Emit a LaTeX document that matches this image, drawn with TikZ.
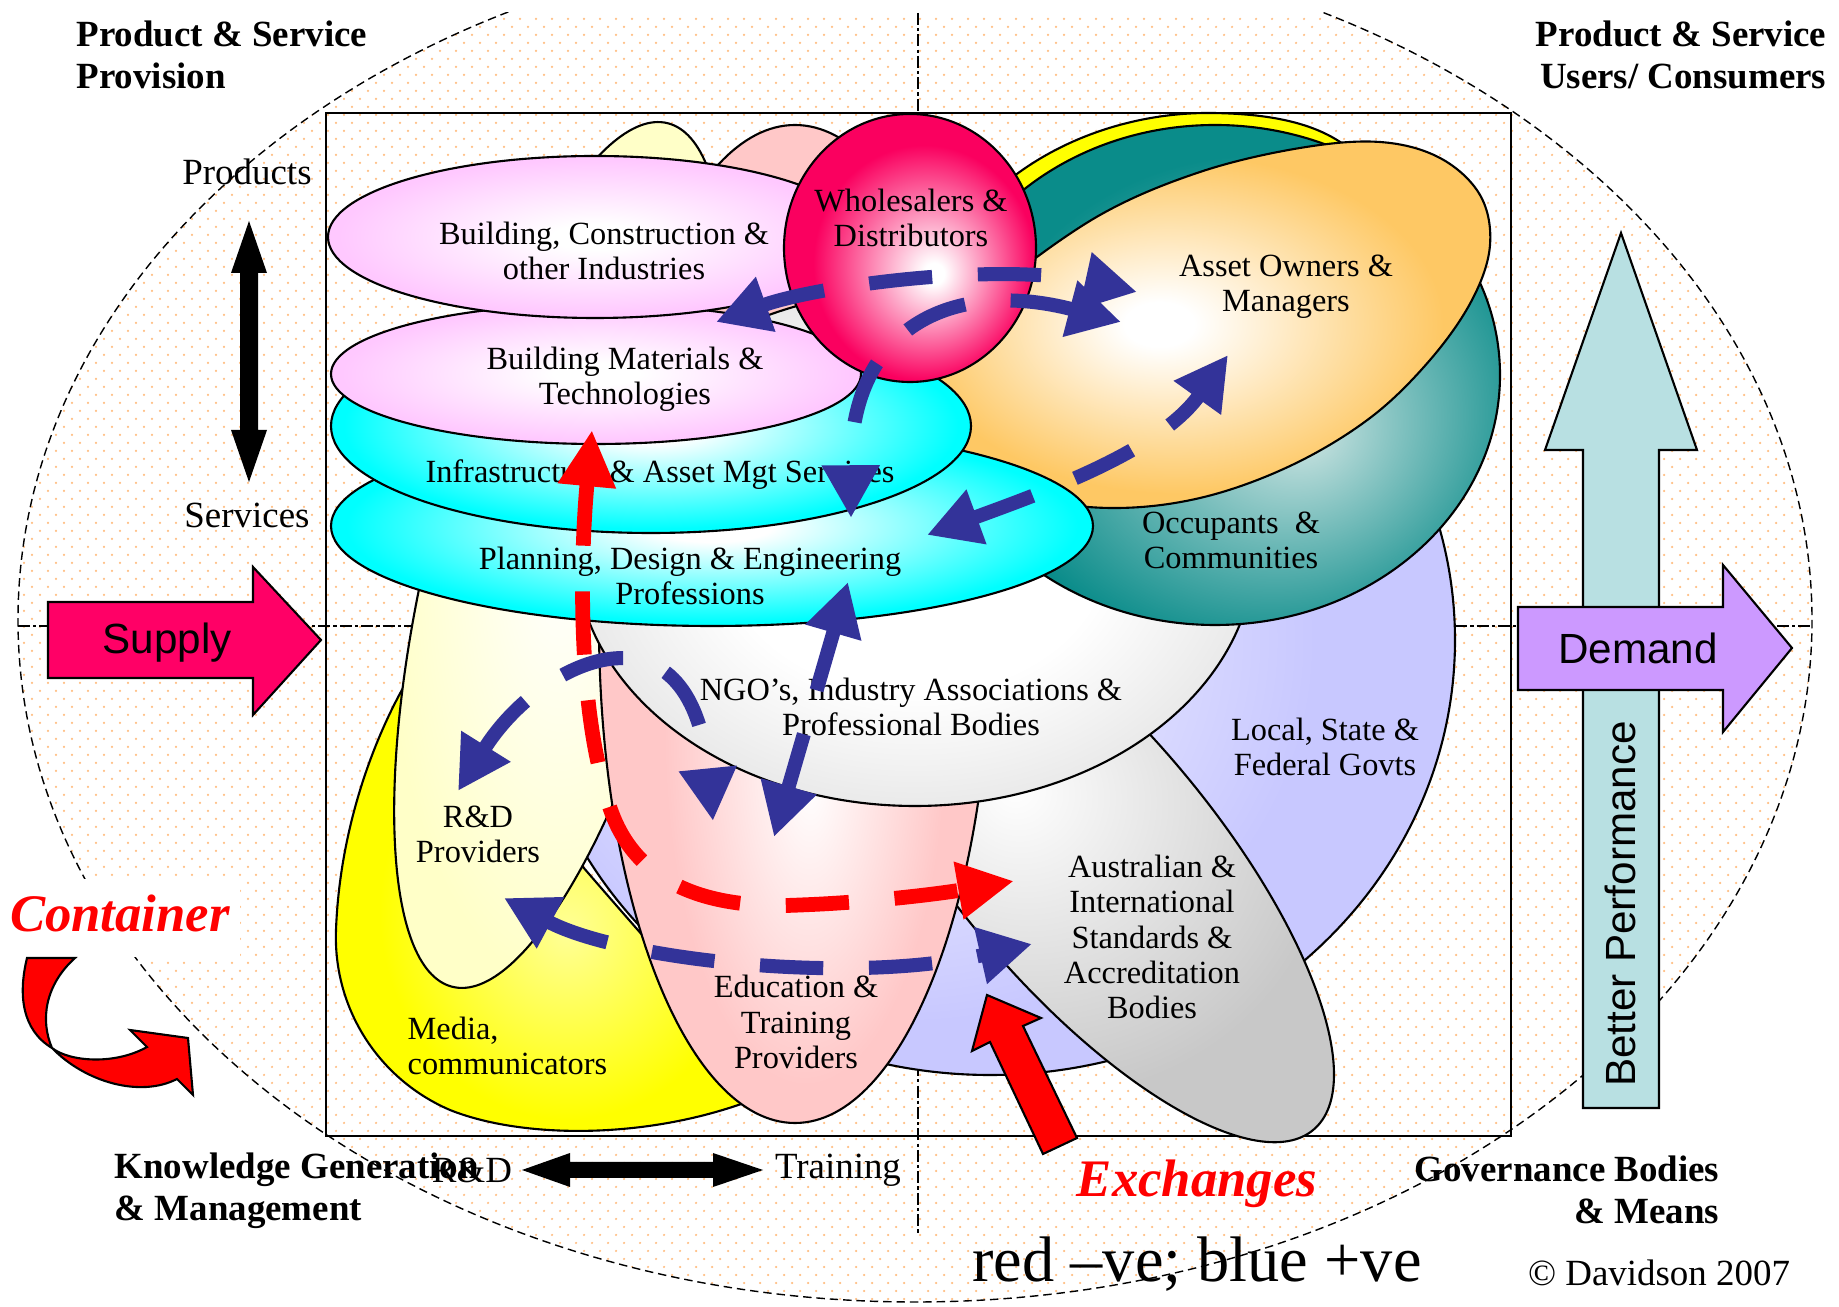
\documentclass[tikz,border=0pt]{standalone}
\usepackage{fontspec}
\setmainfont{Liberation Serif}
\setsansfont{Liberation Sans}
\usetikzlibrary{arrows.meta,patterns}

\definecolor{bluec}{RGB}{51,51,153}
\definecolor{redc}{RGB}{255,0,0}
\definecolor{supplyc}{RGB}{255,0,102}
\definecolor{demandc}{RGB}{204,153,255}
\definecolor{perfc}{RGB}{184,224,226}
\definecolor{cyanc}{RGB}{0,255,255}
\definecolor{pinkc}{RGB}{255,200,255}
\definecolor{wholec}{RGB}{250,0,95}
\definecolor{orangec}{RGB}{254,200,100}
\definecolor{tealc}{RGB}{10,140,138}
\definecolor{teallt}{RGB}{205,228,226}
\definecolor{yellc}{RGB}{255,255,0}
\definecolor{yelllt}{RGB}{255,255,150}
\definecolor{rdc}{RGB}{255,255,200}
\definecolor{educ}{RGB}{255,200,200}
\definecolor{lavc}{RGB}{200,200,255}
\definecolor{grayc}{RGB}{200,200,200}
\definecolor{ngoc}{RGB}{232,232,232}
\definecolor{dotc}{RGB}{255,190,130}

\pgfdeclarepatternformonly{orgdots}{\pgfpoint{-0.5pt}{-0.5pt}}{\pgfpoint{3pt}{3pt}}{\pgfpoint{4.55pt}{4.55pt}}%
{\pgfpathcircle{\pgfpointorigin}{0.35pt}\pgfpathcircle{\pgfpoint{2.275pt}{2.275pt}}{0.35pt}\pgfusepath{fill}}

\pgfdeclareradialshading{shcyan}{\pgfpoint{0bp}{0bp}}{color(0bp)=(white); color(4bp)=(white); color(24bp)=(cyanc); color(50bp)=(cyanc)}
\pgfdeclareradialshading{shpink}{\pgfpoint{0bp}{0bp}}{color(0bp)=(white); color(4bp)=(white); color(24bp)=(pinkc); color(50bp)=(pinkc)}
\pgfdeclareradialshading{shwhole}{\pgfpoint{5bp}{-5bp}}{color(0bp)=(white); color(2bp)=(white); color(22bp)=(wholec); color(50bp)=(wholec)}
\pgfdeclareradialshading{shorange}{\pgfpoint{-4bp}{0bp}}{color(0bp)=(white); color(3bp)=(white); color(23bp)=(orangec); color(50bp)=(orangec)}
\pgfdeclareradialshading{shteal}{\pgfpoint{8bp}{-6bp}}{color(0bp)=(teallt); color(25bp)=(tealc); color(50bp)=(tealc)}
\pgfdeclareradialshading{shmedia}{\pgfpoint{0bp}{-5bp}}{color(0bp)=(yelllt); color(20bp)=(yellc); color(50bp)=(yellc)}
\pgfdeclareradialshading{shrd}{\pgfpoint{0bp}{0bp}}{color(0bp)=(white); color(24bp)=(rdc); color(50bp)=(rdc)}
\pgfdeclareradialshading{shedu}{\pgfpoint{2bp}{-8bp}}{color(0bp)=(white); color(18bp)=(educ); color(50bp)=(educ)}
\pgfdeclareradialshading{shngo}{\pgfpoint{0bp}{0bp}}{color(0bp)=(white); color(14bp)=(white); color(26bp)=(ngoc); color(50bp)=(ngoc)}
\pgfdeclareradialshading{shgray}{\pgfpoint{-6bp}{6bp}}{color(0bp)=(white); color(25bp)=(grayc); color(50bp)=(grayc)}
\pgfdeclareradialshading{shlav}{\pgfpoint{-8bp}{0bp}}{color(0bp)=(white); color(22bp)=(lavc); color(50bp)=(lavc)}

\tikzset{
  shp/.style={draw=black, line width=0.6pt},
  lbl/.style={font=\fontsize{9.2}{10}\selectfont, align=center, inner sep=0pt},
  hdr/.style={font=\fontsize{10.5}{12}\selectfont\bfseries, inner sep=0pt},
  bigtxt/.style={font=\fontsize{10.5}{12}\selectfont, inner sep=0pt},
  sanstxt/.style={font=\sffamily\fontsize{12}{14}\selectfont, inner sep=0pt},
  bdash/.style={draw=bluec, line width=4pt, dash pattern=on 18pt off 13pt,
     {Triangle[length=15pt,width=15.5pt]}-{Triangle[length=15pt,width=15.5pt]}},
  rdash/.style={draw=redc, line width=4.2pt, dash pattern=on 18pt off 13pt,
     {Triangle[length=16pt,width=15.5pt]}-{Triangle[length=16pt,width=15.5pt]}},
  xline/.style={line width=0.45pt, dash pattern=on 3.4pt off 0.9pt on 0.9pt off 0.9pt},
  blockarr/.style={draw=black, line width=0.6pt},
}

\begin{document}
\begin{tikzpicture}[x=0.01cm, y=-0.01cm]
\useasboundingbox (0,0) rectangle (1839,1307);

% ---- container ellipse with dotted fill
\begin{scope}
  \clip (0,13) rectangle (1839,1307);
  \fill[white] (915,620) ellipse [x radius=897, y radius=682];
  \fill[pattern=orgdots, pattern color=dotc] (915,620) ellipse [x radius=897, y radius=682];
  \draw[line width=0.4pt, dash pattern=on 2.4pt off 1.4pt] (915,620) ellipse [x radius=897, y radius=682];
\end{scope}
\fill[white] (0,879) rectangle (240,957);

% ---- cross lines and frame
\draw[xline] (918,13) -- (918,1235);
\draw[xline] (18,626) -- (1812,626);
\draw[line width=0.7pt] (326,113) rectangle (1511,1136);

% ---- shapes, back to front
\shadedraw[shading=shlav, shp] (990,640) ellipse [x radius=465, y radius=435];
\shadedraw[shading=shgray, shp, shift={(1082,854)}, rotate=-50] (0,0) ellipse [x radius=360, y radius=130];
\shadedraw[shading=shmedia, shp] (470,620) -- (420,660) .. controls (380,720) and (340,820) .. (336,930)
   .. controls (333,1010) and (380,1080) .. (450,1110) .. controls (520,1138) and (640,1140) .. (744,1103)
   -- (800,1080) -- (690,990) .. controls (660,955) and (620,910) .. (583,867) -- (540,780) -- cycle;
\shadedraw[shading=shrd, shp, shift={(560,555)}, rotate=-14] (0,0) ellipse [x radius=130, y radius=445];
\shadedraw[shading=shedu, shp] (795,624) ellipse [x radius=196, y radius=499];
\shadedraw[shading=shngo, shp] (915,548) ellipse [x radius=340, y radius=258];
\filldraw[fill=yellc, shp] (960,230) .. controls (1020,150) and (1120,112) .. (1212,113)
   .. controls (1290,114) and (1340,130) .. (1370,170) -- (1215,375) -- cycle;
\shadedraw[shading=shteal, shp] (1215,375) ellipse [x radius=285, y radius=250];
\shadedraw[shading=shorange, shp] plot[smooth cycle, tension=0.6] coordinates {
   (915,420) (945,335) (1000,285) (1100,215) (1200,172) (1300,148) (1380,142) (1440,158)
   (1480,195) (1490,245) (1472,300) (1430,360) (1370,418) (1290,466) (1200,498) (1110,508)
   (1020,496) (950,468)};
\shadedraw[shading=shcyan, shp] (712,526) ellipse [x radius=381, y radius=100];
\shadedraw[shading=shcyan, shp] (651,426) ellipse [x radius=320, y radius=107];
\shadedraw[shading=shpink, shp] (596,374) ellipse [x radius=265, y radius=70];
\shadedraw[shading=shpink, shp] (595,237) ellipse [x radius=267, y radius=81];
\shadedraw[shading=shwhole, shp] (910,248) ellipse [x radius=126, y radius=134];

% ---- shape labels
\node[lbl] (tBC) at (604,251) {Building, Construction \&\\other Industries};
\node[lbl] (tBM) at (625,379) {Building Materials \&\\Technologies};
\node[lbl] (tIA) at (660,475) {Infrastructure \& Asset Mgt Services};
\node[lbl] (tPD) at (690,576) {Planning, Design \& Engineering\\Professions};
\node[lbl] (tWD) at (911,218) {Wholesalers \&\\Distributors};
\node[lbl] (tAO) at (1286,287) {Asset Owners \&\\Managers};
\node[lbl] (tOC) at (1231,540) {Occupants\ \ \&\\Communities};
\node[lbl] (tNGO) at (911,707) {NGO’s, Industry Associations \&\\Professional Bodies};
\node[lbl] (tLG) at (1325,747) {Local, State \&\\Federal Govts};
\node[lbl] (tRD) at (478,834) {R\&D\\Providers};
\node[lbl] (tAS) at (1152,937) {Australian \&\\International\\Standards \&\\Accreditation\\Bodies};
\node[lbl] (tET) at (796,1022) {Education \&\\Training\\Providers};
\node[lbl, anchor=west, align=left] (tMC) at (407,1046) {Media,\\communicators};

% ---- exchange arrows (dashed)
\coordinate (bA1) at (716,322);  \coordinate (bA2) at (1137,292);
\coordinate (bB1) at (1121,322); \coordinate (bB2) at (851,518);
\coordinate (bC1) at (927,535);  \coordinate (bC2) at (1228,355);
\coordinate (bD1) at (848,582);  \coordinate (bD2) at (774,837);
\coordinate (bE1) at (458,791);  \coordinate (bE2) at (713,821);
\coordinate (bF1) at (504,898);  \coordinate (bF2) at (1032,944);
\coordinate (rG1) at (592,430);  \coordinate (rG2) at (1014,881);

\draw[bdash] (bA1) .. controls (820,285) and (1000,262) .. (bA2);
\draw[bdash] (bB1) .. controls (960,280) and (850,320) .. (bB2);
\draw[bdash] (bC1) .. controls (1050,490) and (1160,450) .. (bC2);
\draw[bdash] (bD1) -- (bD2);
\draw[bdash] (bE1) .. controls (540,660) and (690,590) .. (bE2);
\draw[bdash] (bF1) .. controls (620,960) and (850,985) .. (bF2);
\draw[rdash] (rG1) .. controls (580,560) and (578,700) .. (605,790)
   .. controls (625,880) and (700,910) .. (800,905) .. controls (880,902) and (950,892) .. (rG2);

% ---- block arrows
\filldraw[fill=supplyc, blockarr] (48,602) -- (253,602) -- (253,567) -- (321,640) -- (253,715) -- (253,678) -- (48,678) -- cycle;
\node[sanstxt] (tSup) at (167,643) {Supply};
\filldraw[fill=perfc, blockarr] (1583,1108) -- (1583,450) -- (1545,450) -- (1621,233) -- (1697,450) -- (1659,450) -- (1659,1108) -- cycle;
\node[sanstxt, rotate=90] (tBP) at (1620,904) {Better Performance};
\filldraw[fill=demandc, blockarr] (1518,607) -- (1723,607) -- (1723,565) -- (1792,648) -- (1723,732) -- (1723,690) -- (1518,690) -- cycle;
\node[sanstxt] (tDem) at (1638,648) {Demand};

\fill[black] (249,221) -- (267,273) -- (258,273) -- (258,430) -- (267,430) -- (249,482) -- (231,430) -- (240,430) -- (240,273) -- (231,273) -- cycle;
\fill[black] (522,1170) -- (570,1153) -- (570,1162) -- (713,1162) -- (713,1153) -- (763,1170) -- (713,1187) -- (713,1178) -- (570,1178) -- (570,1187) -- cycle;

\filldraw[fill=redc, blockarr] (1043,1154) -- (1077,1138) -- (1023,1026) -- (1041,1018) -- (987,995) -- (972,1051) -- (990,1042) -- cycle;

\filldraw[fill=redc, blockarr] (27,958) .. controls (18,995) and (22,1030) .. (52,1048)
   .. controls (85,1082) and (140,1098) .. (177,1079) -- (193,1095) -- (188,1038) -- (130,1030) -- (147,1047)
   .. controls (115,1065) and (70,1062) .. (52,1048) .. controls (40,1020) and (45,985) .. (75,958) -- cycle;

% ---- outer texts
\node[hdr, anchor=west, align=left] (hL) at (76,55) {Product \& Service\\Provision};
\node[hdr, anchor=east, align=right] (hR) at (1827,55) {Product \& Service\\Users/ Consumers};
\node[hdr, anchor=west, align=left] (hKG) at (114,1191) {Knowledge Generation\\\& Management};
\node[hdr, anchor=east, align=right] (hGB) at (1720,1190) {Governance Bodies\\\& Means};
\node[bigtxt] (tProd) at (247,172) {Products};
\node[bigtxt] (tServ) at (247,515) {Services};
\node[bigtxt] (tRDb) at (472,1170) {R\&D};
\node[bigtxt] (tTr) at (838,1170) {Training};
\node[font=\fontsize{15}{17}\selectfont\bfseries\itshape, text=redc, inner sep=0pt] (tCont) at (120,913) {Container};
\node[font=\fontsize{15}{17}\selectfont\bfseries\itshape, text=redc, inner sep=0pt] (tExch) at (1197,1184) {Exchanges};
\node[font=\fontsize{18.3}{20}\selectfont, inner sep=0pt] (tRB) at (1197,1264) {red –ve; blue +ve};
\node[bigtxt] (tCopy) at (1659,1273) {© Davidson 2007};
\end{tikzpicture}
\end{document}
